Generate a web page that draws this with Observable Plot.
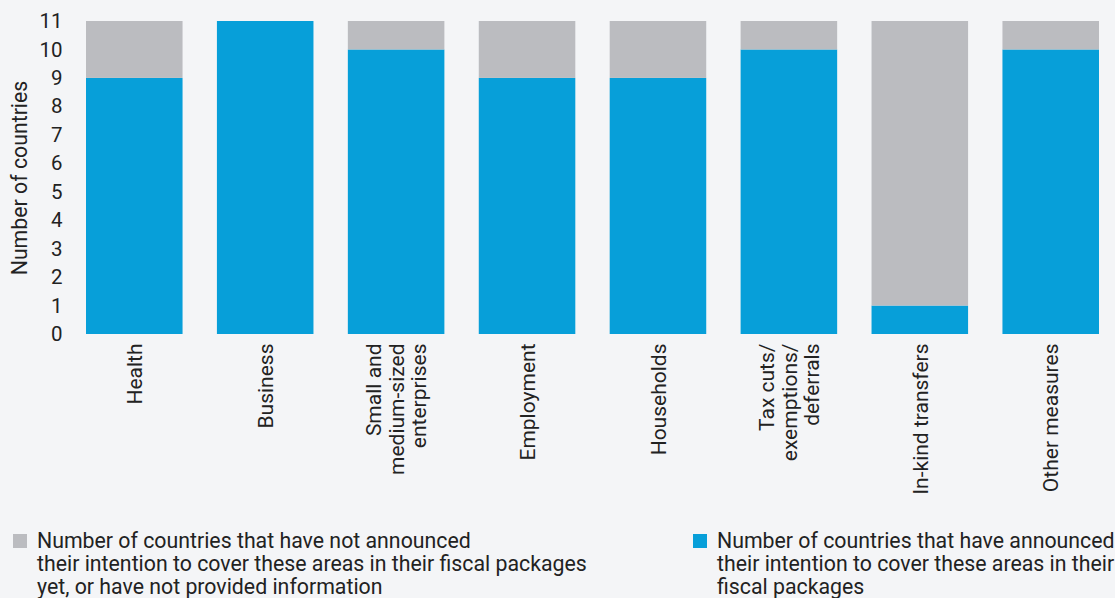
<!DOCTYPE html>
<html>
<head>
<meta charset="utf-8">
<script src="https://cdn.jsdelivr.net/npm/d3@7"></script>
<script src="https://cdn.jsdelivr.net/npm/@observablehq/plot@0.6"></script>
<style>
  html, body { margin: 0; padding: 0; background: #f4f5f7; }
  body { width: 1115px; height: 598px; position: relative; overflow: hidden; font-family: Roboto, sans-serif; color: #222; }
  #chart { position: absolute; left: 0; top: 0; }
  .legend { position: absolute; top: 529px; font-size: 21.3px; line-height: 23px; color: #222; }
  .legend .sw { position: absolute; left: 0; top: 5px; width: 14px; height: 14px; }
  .legend .tx { position: absolute; left: 24px; top: 0; white-space: nowrap; }
</style>
</head>
<body>
<div id="chart"></div>
<div class="legend" style="left:13px"><div class="sw" style="background:#bbbcc0"></div><div class="tx">Number of countries that have not announced<br>their intention to cover these areas in their fiscal packages<br>yet, or have not provided information</div></div>
<div class="legend" style="left:693px"><div class="sw" style="background:#079fd9"></div><div class="tx">Number of countries that have announced<br>their intention to cover these areas in their<br>fiscal packages</div></div>
<script>
const categories = ["Health", "Business", "Small and\nmedium-sized\nenterprises", "Employment", "Households", "Tax cuts/\nexemptions/\ndeferrals", "In-kind transfers", "Other measures"];
const announced = [9, 11, 10, 9, 9, 10, 1, 10];
const notAnnounced = [2, 0, 1, 2, 2, 1, 10, 1];
const yTicks = [0, 1, 2, 3, 4, 5, 6, 7, 8, 9, 10, 11];
const gridValues = [2, 4, 6, 8, 10];

const rows = categories.map((c, i) => ({cat: c, a: announced[i], n: notAnnounced[i], total: announced[i] + notAnnounced[i]}));

const chart = Plot.plot({
  width: 1115,
  height: 515,
  marginLeft: 73,
  marginRight: 3,
  marginTop: 21,
  marginBottom: 181,
  style: {background: "transparent", fontFamily: "Roboto, sans-serif", color: "#222"},
  x: {domain: categories, paddingInner: 0.2626, paddingOuter: 0.0993, round: false},
  y: {domain: [0, 11]},
  marks: [
    Plot.ruleY(gridValues, {stroke: "#b3b3b3", strokeWidth: 1, x1: 73, x2: 1115}),
    Plot.barY(rows, {x: "cat", y1: 0, y2: "a", fill: "#079fd9"}),
    Plot.barY(rows, {x: "cat", y1: "a", y2: "total", fill: "#bbbcc0"}),
    Plot.ruleY([0], {stroke: "#333", strokeWidth: 1.5, x1: 73, x2: 1115}),
    Plot.axisY({ticks: yTicks, tickSize: 0, tickPadding: 11, fontSize: 20.5, tickFormat: d => String(d),
      label: null}),
    Plot.axisY({ticks: [], tickSize: 0, fontSize: 21.3,
      label: "Number of countries", labelAnchor: "center", labelArrow: "none", labelOffset: 62}),
    Plot.axisX({tickSize: 0, tickRotate: -90, tickPadding: 9, fontSize: 21, textAnchor: "end", lineAnchor: "middle", lineHeight: 1.07, label: null})
  ]
});
document.getElementById("chart").appendChild(chart);
</script>
</body>
</html>
